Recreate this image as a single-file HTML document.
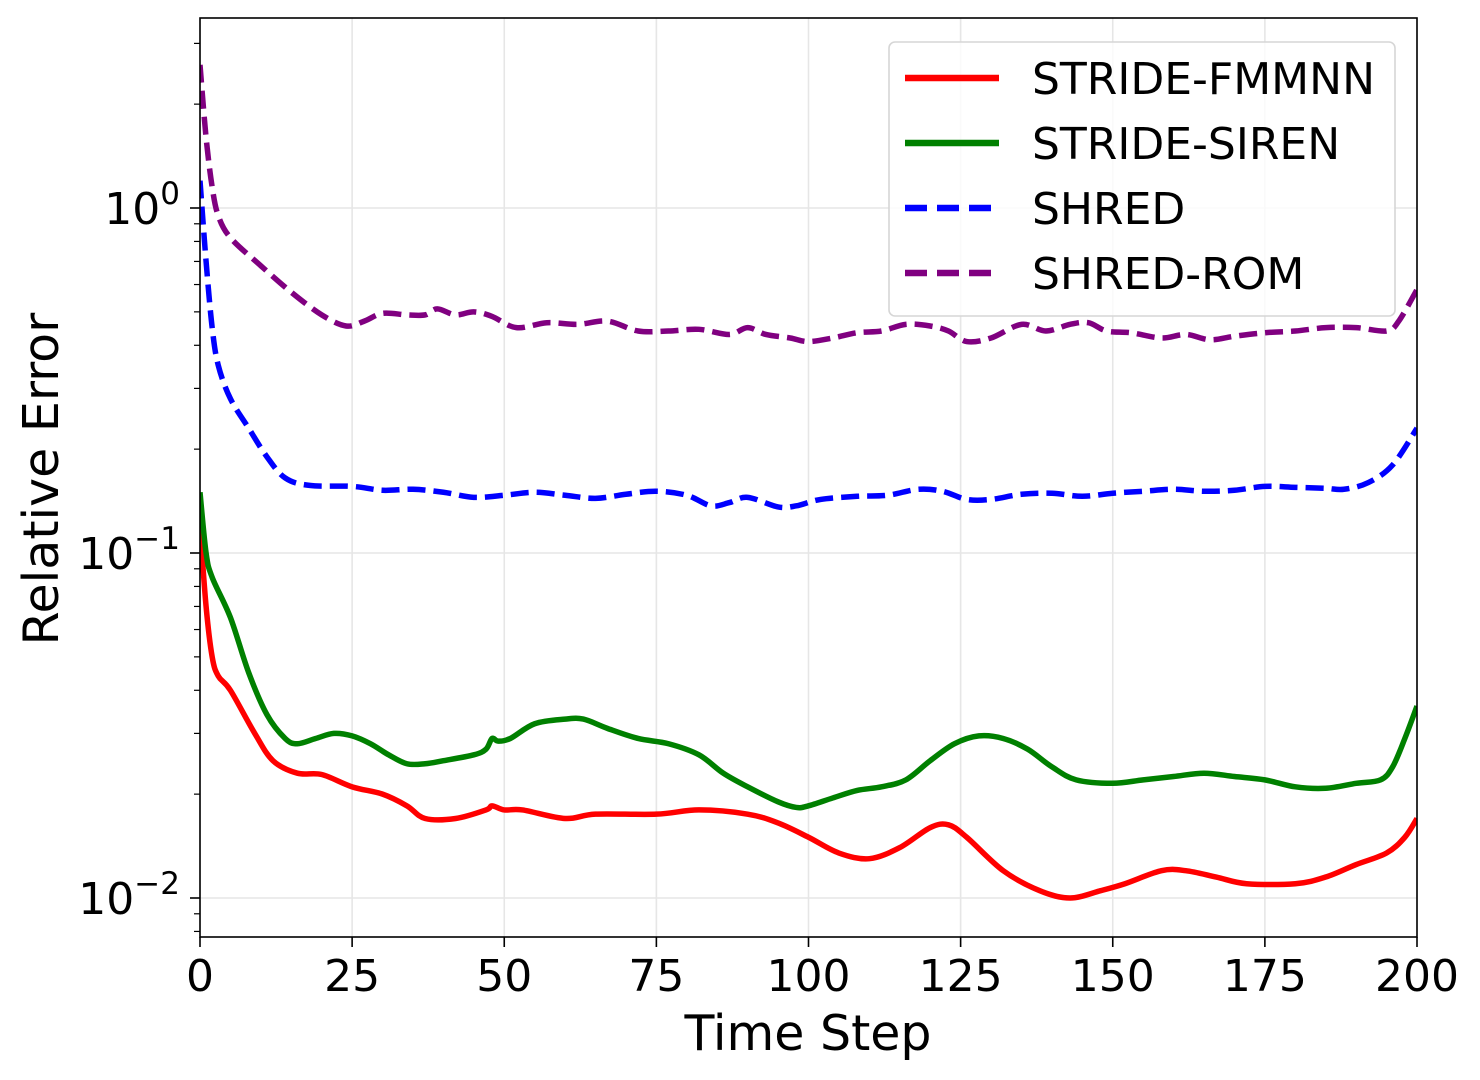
<!DOCTYPE html>
<html><head><meta charset="utf-8"><style>
body{margin:0;background:#fff}
svg{display:block;font-family:"DejaVu Sans","Liberation Sans",sans-serif}
</style></head><body>
<svg id="chart" width="1480" height="1080">
<g id="grid"></g>
<g id="series"></g>
<g id="axes"></g>
<text x="808" y="1050" font-size="49" text-anchor="middle">Time Step</text>
<text transform="translate(58,479) rotate(-90)" font-size="49" text-anchor="middle">Relative Error</text>
<g id="legend"></g>
</svg>
<script>
const xTicks=[0,25,50,75,100,125,150,175,200];
const yDecades=[-2,-1,0];
const fmmnnT=[0,1,2,3,5,9,12,16,20,25,30,34,37,42,47,48,50,53,60,65,75,82,90,95,100,105,110,115,120,123,126,132,138,143,148,152,158,162,167,172,180,185,190,195,198,200];
const fmmnnV=[0.12,0.07,0.05,0.044,0.04,0.03,0.025,0.023,0.0228,0.021,0.020,0.0185,0.017,0.017,0.018,0.0185,0.018,0.018,0.017,0.0175,0.0175,0.018,0.0175,0.0165,0.015,0.0135,0.013,0.014,0.016,0.0163,0.015,0.012,0.0105,0.010,0.0105,0.011,0.012,0.012,0.0115,0.011,0.011,0.0115,0.0125,0.0135,0.015,0.017];
const sirenT=[0,1,2,5,8,11,14,16,19,22,25,28,31,34,37,40,45,47,48,49,51,55,60,63,67,72,77,82,86,90,95,98,100,104,108,112,116,120,124,128,132,136,140,144,150,155,160,165,170,175,180,185,190,194,196,198,200];
const sirenV=[0.15,0.1,0.085,0.065,0.045,0.034,0.029,0.028,0.029,0.030,0.0295,0.028,0.026,0.0245,0.0245,0.025,0.026,0.027,0.029,0.0285,0.029,0.032,0.033,0.033,0.031,0.029,0.028,0.026,0.023,0.021,0.019,0.0183,0.0185,0.0195,0.0205,0.021,0.022,0.025,0.028,0.0295,0.029,0.027,0.024,0.022,0.0215,0.022,0.0225,0.023,0.0225,0.022,0.021,0.0208,0.0215,0.022,0.024,0.029,0.036];
const shredT=[0,1,2,3,5,8,11,14,18,25,30,35,40,45,50,55,60,65,70,75,80,84,87,90,95,98,102,108,113,118,122,126,130,135,140,145,150,155,160,165,170,175,180,185,188,192,196,200];
const shredV=[1.2,0.7,0.45,0.35,0.28,0.23,0.19,0.165,0.157,0.156,0.152,0.153,0.15,0.145,0.147,0.15,0.147,0.144,0.148,0.151,0.147,0.137,0.14,0.145,0.136,0.137,0.143,0.146,0.147,0.153,0.151,0.143,0.143,0.148,0.149,0.146,0.149,0.151,0.153,0.151,0.152,0.156,0.155,0.154,0.153,0.16,0.18,0.23];
const romT=[0,1,2,3,5,10,15,20,24,27,30,34,37,39,42,45,48,52,57,62,67,72,77,82,87,90,93,97,100,104,108,112,116,120,123,126,130,135,139,143,146,149,153,158,162,166,170,175,180,185,190,195,197,200];
const romV=[2.6,1.6,1.15,0.95,0.82,0.68,0.57,0.49,0.455,0.47,0.495,0.49,0.49,0.51,0.49,0.5,0.485,0.45,0.465,0.46,0.47,0.44,0.44,0.445,0.43,0.45,0.43,0.42,0.41,0.42,0.435,0.44,0.46,0.455,0.44,0.41,0.42,0.46,0.44,0.46,0.465,0.44,0.435,0.42,0.43,0.415,0.425,0.435,0.44,0.45,0.45,0.44,0.47,0.58];
const legendLabels=["STRIDE-FMMNN","STRIDE-SIREN","SHRED","SHRED-ROM"];

const L=200,R=1417,T=18,B=937;
const xs=t=>L+(t/200)*(R-L);
const ys=v=>208-345*Math.log10(v);
const NS="http://www.w3.org/2000/svg";
function mk(tag,attrs,parent){const e=document.createElementNS(NS,tag);for(const k in attrs)e.setAttribute(k,attrs[k]);parent.appendChild(e);return e;}
function smooth(p){let d='M'+p[0][0]+','+p[0][1];for(let i=0;i<p.length-1;i++){const p0=p[i-1]||p[i],p1=p[i],p2=p[i+1],p3=p[i+2]||p2;const k=1/6;
  d+=' C'+(p1[0]+(p2[0]-p0[0])*k)+','+(p1[1]+(p2[1]-p0[1])*k)+' '+(p2[0]-(p3[0]-p1[0])*k)+','+(p2[1]-(p3[1]-p1[1])*k)+' '+p2[0]+','+p2[1];}return d;}
const grid=document.getElementById('grid'),axes=document.getElementById('axes'),ser=document.getElementById('series'),leg=document.getElementById('legend');

xTicks.forEach(t=>{
  const g=mk('line',{x1:xs(t),x2:xs(t),y1:T,y2:B,stroke:'#e6e6e6','stroke-width':1.6},grid);
  
  
  const tk=mk('line',{x1:xs(t),x2:xs(t),y1:B,y2:B+10,stroke:'#000','stroke-width':1.6},axes);
  
  
  const lb=mk('text',{x:xs(t),y:B+54,'font-size':44,'text-anchor':'middle'},axes);
  lb.textContent=t;
  
  
});
yDecades.forEach(d=>{
  const y=ys(Math.pow(10,d));
  const g=mk('line',{x1:L,x2:R,y1:y,y2:y,stroke:'#e6e6e6','stroke-width':1.6},grid);
  
  
  const tk=mk('line',{x1:L-10,x2:L,y1:y,y2:y,stroke:'#000','stroke-width':1.6},axes);
  
  
  const lb=mk('text',{x:L-20,y:y+16,'font-size':44,'text-anchor':'end'},axes);
  lb.innerHTML='10<tspan dy="-20" font-size="31">'+(d<0?'\u2212'+(-d):d)+'</tspan>';
  
  
});
for(let d=-3;d<=0;d++){for(let m=2;m<=9;m++){const y=ys(m*Math.pow(10,d));if(y<T||y>B)continue;
  const tk=mk('line',{x1:L-6,x2:L,y1:y,y2:y,stroke:'#000','stroke-width':1.2},axes);
  
  }}
const frame=mk('rect',{x:L,y:T,width:R-L,height:B-T,fill:'none',stroke:'#000','stroke-width':1.6},axes);



const defs=[[fmmnnT,fmmnnV,'#ff0000',null,'stride-fmmnn-line'],[sirenT,sirenV,'#008000',null,'stride-siren-line'],[shredT,shredV,'#0000ff','18,8','shred-line'],[romT,romV,'#800080','18,8','shred-rom-line']];
const clip=mk('clipPath',{id:'pc'},mk('defs',{},ser));mk('rect',{x:L,y:T,width:R-L,height:B-T},clip);
defs.forEach(([t,v,c,da,n])=>{
  const p=mk('path',{d:smooth(t.map((ti,i)=>[xs(ti),ys(v[i])])),fill:'none',stroke:c,'stroke-width':5.5,'stroke-linejoin':'round','clip-path':'url(#pc)'},ser);
  if(da)p.setAttribute('stroke-dasharray',da);
  
  
});

const box=mk('rect',{x:889,y:42,width:506,height:274,rx:6,fill:'#fff','fill-opacity':0.8,stroke:'#d6d6d6','stroke-width':1.6},leg);


legendLabels.forEach((lab,i)=>{
  const y=78+i*65;
  const ln=mk('line',{x1:905,x2:999,y1:y,y2:y,stroke:defs[i][2],'stroke-width':6.5},leg);
  if(defs[i][3])ln.setAttribute('stroke-dasharray','22,10');
  
  
  const tx=mk('text',{x:1032,y:y+16,'font-size':44},leg);
  tx.textContent=lab;
  
  
});
</script>
</body></html>
